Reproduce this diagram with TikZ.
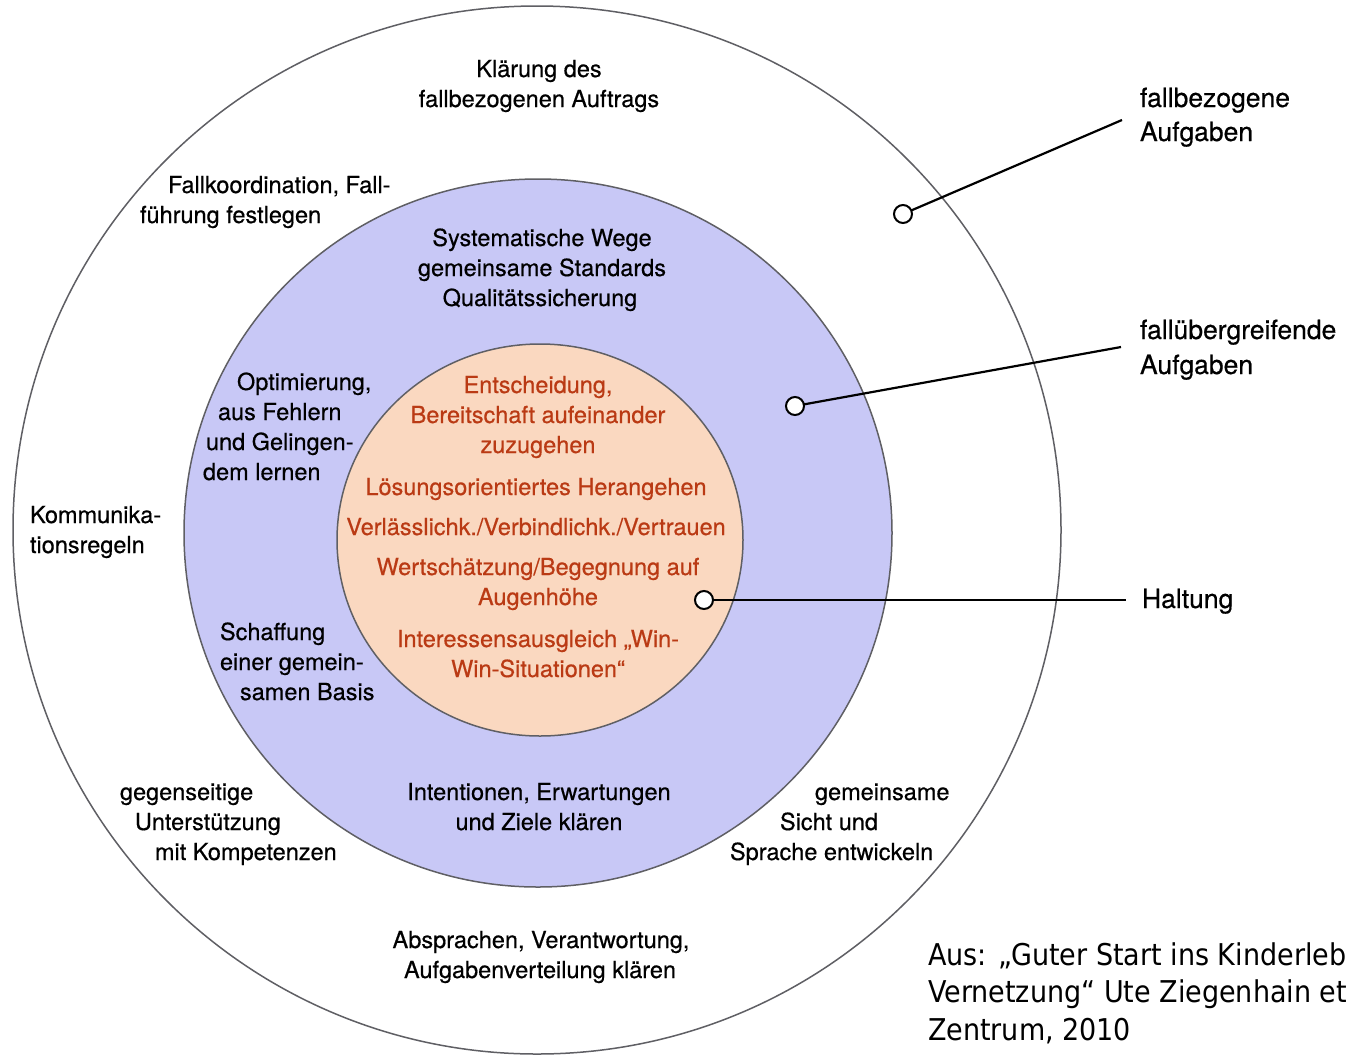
\documentclass[tikz,border=0pt]{standalone}
\usepackage{fontspec}
\setmainfont{TeX Gyre Heros}[FakeBold=0.5]
\newfontfamily\citefont{DejaVu Sans}[FakeStretch=0.9]
\definecolor{ringblue}{RGB}{200,200,246}
\definecolor{ringorange}{RGB}{250,216,192}
\definecolor{orangetext}{RGB}{186,58,20}
\definecolor{ringline}{RGB}{95,95,100}
\begin{document}
\begin{tikzpicture}[x=1pt,y=-1pt,
  every node/.style={inner sep=0pt, outer sep=0pt},
  ring/.style={draw=ringline, line width=1.5pt},
  txt/.style={font=\fontsize{23.5}{28}\selectfont, text=black},
  otxt/.style={txt, text=orangetext},
  lbl/.style={font=\fontsize{26.5}{32}\selectfont, text=black},
  citetxt/.style={font=\citefont\fontsize{30}{36}\selectfont, text=black},
  marker/.style={circle, draw=black, line width=2pt, fill=white, minimum size=18pt},
  leader/.style={draw=black, line width=2.2pt}]
\useasboundingbox (0,0) rectangle (1352,1061);
\fill[white] (0,0) rectangle (1352,1061);
% rings
\path[ring, fill=white] (537,530) circle[radius=524pt];
\path[ring, fill=ringblue] (538,533) circle[radius=354pt];
\path[ring, fill=ringorange] (540,540) ellipse[x radius=203pt, y radius=196pt];
% outer ring texts
\node[txt, anchor=base] (k1) at (539,77) {Klärung des};
\node[txt, anchor=base] (k2) at (539,107) {fallbezogenen Auftrags};
\node[txt, anchor=base west] (f1) at (168,193) {Fallkoordination, Fall-};
\node[txt, anchor=base west] (f2) at (140,223) {führung festlegen};
\node[txt, anchor=base west] (ko1) at (30,523) {Kommunika-};
\node[txt, anchor=base west] (ko2) at (30,553) {tionsregeln};
\node[txt, anchor=base west] (g1) at (120,800) {gegenseitige};
\node[txt, anchor=base west] (g2) at (135,830) {Unterstützung};
\node[txt, anchor=base west] (g3) at (155,860) {mit Kompetenzen};
\node[txt, anchor=base west] (s1) at (815,800) {gemeinsame};
\node[txt, anchor=base west] (s2) at (780,830) {Sicht und};
\node[txt, anchor=base west] (s3) at (730,860) {Sprache entwickeln};
\node[txt, anchor=base] (a1) at (541,948) {Absprachen, Verantwortung,};
\node[txt, anchor=base] (a2) at (540,978) {Aufgabenverteilung klären};
% blue ring texts
\node[txt, anchor=base] (w1) at (542,246) {Systematische Wege};
\node[txt, anchor=base] (w2) at (542,276) {gemeinsame Standards};
\node[txt, anchor=base] (w3) at (540,306) {Qualitätssicherung};
\node[txt, anchor=base west] (o1) at (237,390) {Optimierung,};
\node[txt, anchor=base west] (o2) at (218,420) {aus Fehlern};
\node[txt, anchor=base west] (o3) at (206,450) {und Gelingen-};
\node[txt, anchor=base west] (o4) at (203,480) {dem lernen};
\node[txt, anchor=base west] (b1) at (220,640) {Schaffung};
\node[txt, anchor=base west] (b2) at (220,670) {einer gemein-};
\node[txt, anchor=base west] (b3) at (240,700) {samen Basis};
\node[txt, anchor=base] (i1) at (539,800) {Intentionen, Erwartungen};
\node[txt, anchor=base] (i2) at (539,830) {und Ziele klären};
% inner circle texts
\node[otxt, anchor=base] (h1) at (538,393) {Entscheidung,};
\node[otxt, anchor=base] (h2) at (538,423) {Bereitschaft aufeinander};
\node[otxt, anchor=base] (h3) at (538,453) {zuzugehen};
\node[otxt, anchor=base] (h4) at (536,495) {Lösungsorientiertes Herangehen};
\node[otxt, anchor=base] (h5) at (536,535) {Verlässlichk./Verbindlichk./Vertrauen};
\node[otxt, anchor=base] (h6) at (538,575) {Wertschätzung/Begegnung auf};
\node[otxt, anchor=base] (h7) at (538,605) {Augenhöhe};
\node[otxt, anchor=base] (h8) at (538,647) {Interessensausgleich „Win-};
\node[otxt, anchor=base] (h9) at (538,677) {Win-Situationen“};
% right labels
\node[lbl, anchor=base west] (r1) at (1140,107) {fallbezogene};
\node[lbl, anchor=base west] (r2) at (1140,141) {Aufgaben};
\node[lbl, anchor=base west] (r3) at (1140,339) {fallübergreifende};
\node[lbl, anchor=base west] (r4) at (1140,374) {Aufgaben};
\node[lbl, anchor=base west] (r5) at (1142,608) {Haltung};
% markers and leaders
\node[marker] (m1) at (903,214) {};
\node[marker] (m2) at (795,406) {};
\node[marker] (m3) at (704,600) {};
\coordinate (e1) at (1122,120);
\coordinate (e2) at (1121,347);
\coordinate (e3) at (1126,600);
\draw[leader] (m1) -- (e1);
\draw[leader] (m2) -- (e2);
\draw[leader] (m3) -- (e3);
% citation
\node[citetxt, anchor=base west] (c1) at (928,965) {Aus: „Guter Start ins Kinderleb};
\node[citetxt, anchor=base west] (c2) at (928,1002) {Vernetzung“ Ute Ziegenhain et};
\node[citetxt, anchor=base west] (c3) at (928,1040) {Zentrum, 2010};
\end{tikzpicture}
\end{document}
